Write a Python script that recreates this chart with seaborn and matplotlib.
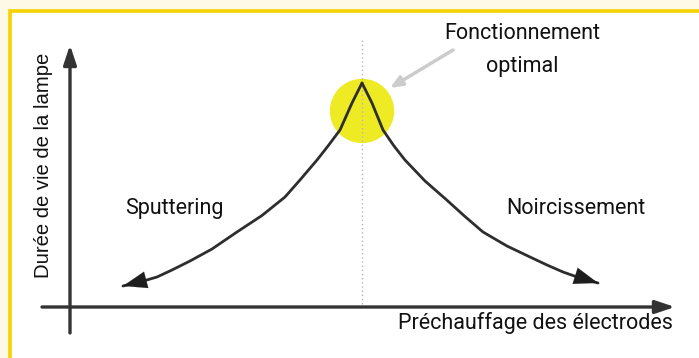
import matplotlib.pyplot as plt
import seaborn as sns
import pandas as pd
from matplotlib.patches import Rectangle

# curve values (preheating level, lamp life)
left_x = [4.867, 4.700, 4.500, 4.300, 4.117, 3.833, 3.583, 3.200, 2.783,
          2.367, 2.000, 1.700, 1.450, 1.167, 0.883]
left_y = [8.615, 7.846, 6.808, 6.192, 5.654, 4.885, 4.230, 3.520, 2.885,
          2.231, 1.769, 1.423, 1.154, 0.962, 0.808]
right_x = [4.867, 5.033, 5.217, 5.400, 5.583, 5.917, 6.267, 6.583, 6.883,
           7.283, 7.667, 7.950, 8.217, 8.500, 8.800]
right_y = [8.615, 7.846, 6.808, 6.192, 5.654, 4.846, 4.140, 3.480, 2.885,
           2.346, 1.923, 1.615, 1.346, 1.115, 0.923]
optimum_x = 4.867
optimum_y = 7.54

x_label = "Préchauffage des électrodes"
y_label = "Durée de vie de la lampe"
left_label = "Sputtering"
right_label = "Noircissement"
peak_label = "Fonctionnement\noptimal"

sns.set_theme(style="white")
narrow = ["Roboto", "DejaVu Sans"]
plain = ["Liberation Sans", "DejaVu Sans"]

W, H = 699, 358
fig = plt.figure(figsize=(W / 100, H / 100), dpi=100)
fig.patch.set_facecolor("#fef8e7")

# white panel with yellow frame
fig.patches.append(Rectangle((10 / W, -0.1), 1.2, (H - 11) / H + 0.1,
                             transform=fig.transFigure, facecolor="white",
                             edgecolor="#f6d200", lw=2.6, zorder=0))

ax = fig.add_axes([0, 0, 1, 1])
ax.set_zorder(2)
ax.patch.set_alpha(0)
# axis origin at pixel (70, 307), 60 px per x unit, 26 px per y unit
ox, oy, sx, sy = 70, 307, 60, 26
ax.set_xlim(-ox / sx, (W - ox) / sx)
ax.set_ylim(-(H - oy) / sy, oy / sy)
ax.axis("off")


def px(x, y):
    return (x - ox) / sx, (oy - y) / sy


df = pd.concat([
    pd.DataFrame({"x": left_x, "y": left_y, "side": "left"}),
    pd.DataFrame({"x": right_x, "y": right_y, "side": "right"}),
])

# yellow glow at the optimum
ax.scatter([optimum_x], [optimum_y], s=2150, color="#eee917", alpha=0.95,
           edgecolors="none", zorder=1)

# dotted guide through the optimum
ax.plot([optimum_x, optimum_x], [px(0, 40)[1], 0], color="#b4b4c4",
        lw=1, ls=(0, (1, 2)), zorder=2)

sns.lineplot(data=df, x="x", y="y", units="side", estimator=None, sort=False,
             color="#2e2e2e", lw=2, ax=ax, zorder=3)
for line in ax.lines[1:]:
    line.set_solid_joinstyle("round")

for xs, ys in [(left_x, left_y), (right_x, right_y)]:
    ax.annotate("", xy=(xs[-1], ys[-1]), xytext=(xs[-3], ys[-3]),
                arrowprops=dict(arrowstyle="-|>,head_length=0.9,head_width=0.32",
                                mutation_scale=19, color="#1e1e1e", lw=0.1,
                                shrinkA=0, shrinkB=0),
                zorder=4)

# axes with arrow heads
ax.annotate("", xy=px(675, 307), xytext=px(42, 307),
            arrowprops=dict(arrowstyle="-|>,head_length=0.9,head_width=0.3",
                            mutation_scale=13, color="#333333", lw=2.4,
                            shrinkA=0, shrinkB=0))
ax.annotate("", xy=px(70, 45), xytext=px(70, 333),
            arrowprops=dict(arrowstyle="-|>,head_length=0.9,head_width=0.3",
                            mutation_scale=13, color="#333333", lw=2.4,
                            shrinkA=0, shrinkB=0))

# grey pointer to the optimum
ax.annotate("", xy=px(390, 88), xytext=px(453, 50),
            arrowprops=dict(arrowstyle="-|>,head_length=0.6,head_width=0.25",
                            color="#cccccc", lw=2.5, shrinkA=0, shrinkB=0))

ax.text(*px(174, 208), left_label, ha="center", va="center", fontsize=15.5,
        family=narrow, color="#111111")
ax.text(*px(576, 208), right_label, ha="center", va="center", fontsize=15.5,
        family=narrow, color="#111111")
ax.text(*px(522, 50), peak_label, ha="center", va="center", fontsize=15.5,
        family=narrow, color="#111111", linespacing=1.7)
ax.text(*px(673, 323), x_label, ha="right", va="center", fontsize=15.5,
        family=narrow, color="#111111")
ax.text(*px(43, 165), y_label, ha="center", va="center", rotation=90,
        fontsize=14.6, family=plain, color="#111111")

fig.savefig("out.png", dpi=100, facecolor=fig.get_facecolor())
